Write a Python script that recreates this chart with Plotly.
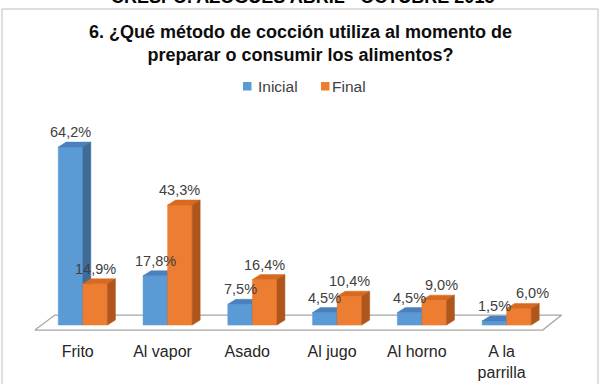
import plotly.graph_objects as go

# ---- data ----
categories = ["Frito", "Al vapor", "Asado", "Al jugo", "Al horno", "A la<br>parrilla"]
inicial = [64.2, 17.8, 7.5, 4.5, 4.5, 1.5]
final = [14.9, 43.3, 16.4, 10.4, 9.0, 6.0]
series_names = ["Inicial", "Final"]
title_text = "6. ¿Qué método de cocción utiliza al momento de<br>preparar o consumir los alimentos?"
header_text = "CRESPO. AZOGUES ABRIL - OCTUBRE 2015"

# ---- style ----
W, H = 603, 384
ML, MR, MT, MB = 32, 37, 131, 52
X_RANGE = [-0.6, 5.7]
Y_RANGE = [-2.5, 70]
BAR_W = 0.29      # bar width in category units
DX, DY = 0.094, 1.8   # 3D depth offsets (axis units)
FLOOR_FRONT_X = (-0.566, 5.425)
FLOOR_BACK_X = (-0.33, 5.649)
FLOOR_Y = (-1.8, 3.6)
COLORS = {
    "Inicial": {"front": "#5B9BD5", "top": "#4A80BD", "side": "#3E6B98"},
    "Final": {"front": "#ED7D31", "top": "#D86A1F", "side": "#AE561C"},
}
LABEL_XSHIFT = {"Inicial": [0, 0, 0, 0, 0, 0], "Final": [0, 0, 0, 0, 7, 14]}
LEGEND_KEYS_PX = {"Inicial": (243, 256), "Final": (321, 330)}  # (square left, text left)
FONT = "Liberation Sans, Arial, sans-serif"

plot_w = W - ML - MR
plot_h = H - MT - MB


def paper_x(px):
    return (px - ML) / plot_w


def paper_y(py):
    return (H - MB - py) / plot_h


def fmt(v):
    return f"{v:.1f}".replace(".", ",") + "%"


def poly(xs, ys, color):
    return go.Scatter(
        x=xs + [xs[0]], y=ys + [ys[0]], mode="lines", fill="toself",
        fillcolor=color, line=dict(color=color, width=0.5),
        hoverinfo="skip", showlegend=False,
    )


fig = go.Figure()

# floor
fx = [FLOOR_FRONT_X[0], FLOOR_FRONT_X[1], FLOOR_BACK_X[1], FLOOR_BACK_X[0]]
fy = [FLOOR_Y[0], FLOOR_Y[0], FLOOR_Y[1], FLOOR_Y[1]]
fig.add_trace(go.Scatter(
    x=fx + [fx[0]], y=fy + [fy[0]], mode="lines", fill="toself",
    fillcolor="white", line=dict(color="#A6A6A6", width=1.3),
    hoverinfo="skip", showlegend=False,
))

annotations = []
series = [("Inicial", inicial, -1), ("Final", final, 0)]
for i, cat in enumerate(categories):
    for name, vals, off in series:
        h = vals[i]
        x0 = i + off * BAR_W
        x1 = x0 + BAR_W
        c = COLORS[name]
        fig.add_trace(poly([x0, x1, x1, x0], [0, 0, h, h], c["front"]))
        fig.add_trace(poly([x0, x1, x1 + DX, x0 + DX], [h, h, h + DY, h + DY], c["top"]))
        fig.add_trace(poly([x1, x1 + DX, x1 + DX, x1], [0, DY, h + DY, h], c["side"]))
        annotations.append(dict(
            x=(x0 + x1) / 2, y=h, xref="x", yref="y", text=fmt(h),
            showarrow=False, yshift=15, xshift=LABEL_XSHIFT[name][i],
            font=dict(family=FONT, size=14.5, color="#404040"),
        ))

# legend (keys + labels)
shapes = []
for name in series_names:
    sq_left, txt_left = LEGEND_KEYS_PX[name]
    shapes.append(dict(
        type="rect", xref="paper", yref="paper",
        x0=paper_x(sq_left), x1=paper_x(sq_left + 8.5),
        y0=paper_y(90.5), y1=paper_y(82),
        line=dict(width=0), fillcolor=COLORS[name]["front"],
    ))
    annotations.append(dict(
        x=paper_x(txt_left), y=paper_y(86), xref="paper", yref="paper",
        xanchor="left", yanchor="middle", text=name, showarrow=False,
        font=dict(family=FONT, size=15.5, color="#404040"),
    ))

# header text (partially cut at top)
annotations.append(dict(
    x=paper_x(302), y=paper_y(8.5), xref="paper", yref="paper",
    xanchor="center", yanchor="bottom", text=f"<b>{header_text}</b>",
    showarrow=False, font=dict(family=FONT, size=18, color="#000000"),
))

# chart title
annotations.append(dict(
    x=paper_x(300), y=paper_y(20), xref="paper", yref="paper",
    xanchor="center", yanchor="top", text=f"<b>{title_text}</b>",
    showarrow=False, font=dict(family=FONT, size=18, color="#0D0D0D"),
))

# outer chart border
shapes.append(dict(
    type="rect", xref="paper", yref="paper",
    x0=paper_x(2), x1=paper_x(598), y0=paper_y(395), y1=paper_y(9),
    line=dict(color="#BFBFBF", width=1), fillcolor="rgba(0,0,0,0)",
    layer="below",
))

fig.update_layout(
    width=W, height=H,
    margin=dict(l=ML, r=MR, t=MT, b=MB, pad=0),
    paper_bgcolor="white", plot_bgcolor="white",
    showlegend=False,
    xaxis=dict(
        range=X_RANGE, showgrid=False, zeroline=False, showline=False,
        tickmode="array", tickvals=[i - 0.06 for i in range(len(categories))],
        ticktext=categories, ticks="outside", ticklen=5,
        tickcolor="rgba(0,0,0,0)", fixedrange=True, automargin=False,
        tickfont=dict(family=FONT, size=16, color="#262626"),
    ),
    yaxis=dict(
        range=Y_RANGE, showgrid=False, zeroline=False, showline=False,
        showticklabels=False, fixedrange=True, automargin=False,
    ),
    shapes=shapes,
    annotations=annotations,
)

fig.write_html("out.html")
